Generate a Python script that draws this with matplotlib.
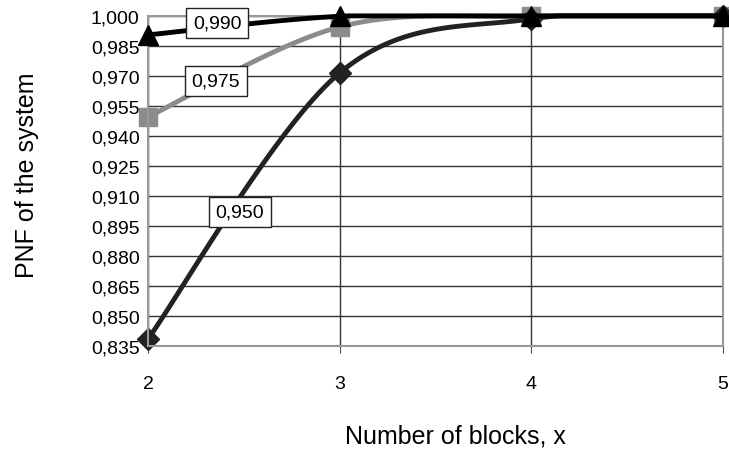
import numpy as np
import matplotlib
matplotlib.use("Agg")
import matplotlib.pyplot as plt

plt.rcParams['font.family'] = ['Liberation Sans', 'DejaVu Sans']

blocks = [2, 3, 4, 5]
pnf_950 = [0.8385, 0.9715, 0.9985, 1.0000]
pnf_975 = [0.9495, 0.9945, 0.9998, 1.0000]
pnf_990 = [0.9905, 0.9998, 1.0000, 1.0000]
y_ticks = [0.835, 0.850, 0.865, 0.880, 0.895, 0.910, 0.925, 0.940,
           0.955, 0.970, 0.985, 1.000]


def smooth(xs, ys, n=40):
    # excel-like smoothed line: cubic bezier with catmull-rom handles
    xs = np.asarray(xs, float)
    ys = np.asarray(ys, float)
    px = np.concatenate([[xs[0]], xs, [xs[-1]]])
    py = np.concatenate([[ys[0]], ys, [ys[-1]]])
    out_x, out_y = [], []
    t = np.linspace(0, 1, n)
    for i in range(1, len(px) - 2):
        p0 = np.array([px[i], py[i]])
        p3 = np.array([px[i + 1], py[i + 1]])
        c1 = p0 + (np.array([px[i + 1], py[i + 1]]) - np.array([px[i - 1], py[i - 1]])) / 6
        c2 = p3 - (np.array([px[i + 2], py[i + 2]]) - p0) / 6
        b = ((1 - t) ** 3)[:, None] * p0 + (3 * (1 - t) ** 2 * t)[:, None] * c1 \
            + (3 * (1 - t) * t ** 2)[:, None] * c2 + (t ** 3)[:, None] * p3
        out_x.extend(b[:, 0])
        out_y.extend(b[:, 1])
    # no overshoot above the data
    return np.array(out_x), np.clip(out_y, ys.min(), ys.max())


fig = plt.figure(figsize=(7.29, 4.56), dpi=100)
ax = fig.add_axes([0.203, 0.239, 0.789, 0.724])

series = [
    (pnf_975, '#8c8c8c', 's', '0,975', 1, 13),
    (pnf_950, '#222222', 'D', '0,950', 2, 11),
    (pnf_990, '#000000', '^', '0,990', 3, 14),
]
for vals, col, mk, lab, z, ms in series:
    sx, sy = smooth(blocks, vals)
    ax.plot(sx, sy, color=col, lw=3.5, zorder=z, clip_on=False, solid_capstyle='round')
    ax.plot(blocks, vals, linestyle='none', marker=mk, color=col,
            markersize=ms, zorder=z + 0.5, clip_on=False)

box = dict(boxstyle='square,pad=0.35', fc='white', ec='#222222', lw=1)
ax.text(2.36, 0.9965, '0,990', fontsize=14, ha='center', va='center', bbox=box, zorder=10)
ax.text(2.355, 0.9675, '0,975', fontsize=14, ha='center', va='center', bbox=box, zorder=10)
ax.text(2.48, 0.902, '0,950', fontsize=14, ha='center', va='center', bbox=box, zorder=10)

ax.set_xlim(2, 5)
ax.set_ylim(0.835, 1.0)
ax.set_xticks(blocks)
ax.set_yticks(y_ticks)
ax.set_yticklabels([f'{v:.3f}'.replace('.', ',') for v in y_ticks])
ax.tick_params(axis='both', labelsize=14)
ax.tick_params(axis='x', length=5, pad=16, color='#555555')
ax.tick_params(axis='y', length=0, pad=6)
ax.grid(True, color='#333333', lw=1)
ax.set_axisbelow(True)
for s in ax.spines.values():
    s.set_color('#999999')
    s.set_linewidth(1.5)

ax.set_xlabel('Number of blocks, x', fontsize=18)
ax.xaxis.set_label_coords(0.535, -0.235)
ax.set_ylabel('PNF of the system', fontsize=18)
ax.yaxis.set_label_coords(-0.19, 0.52)

fig.savefig('out.png', dpi=100)
